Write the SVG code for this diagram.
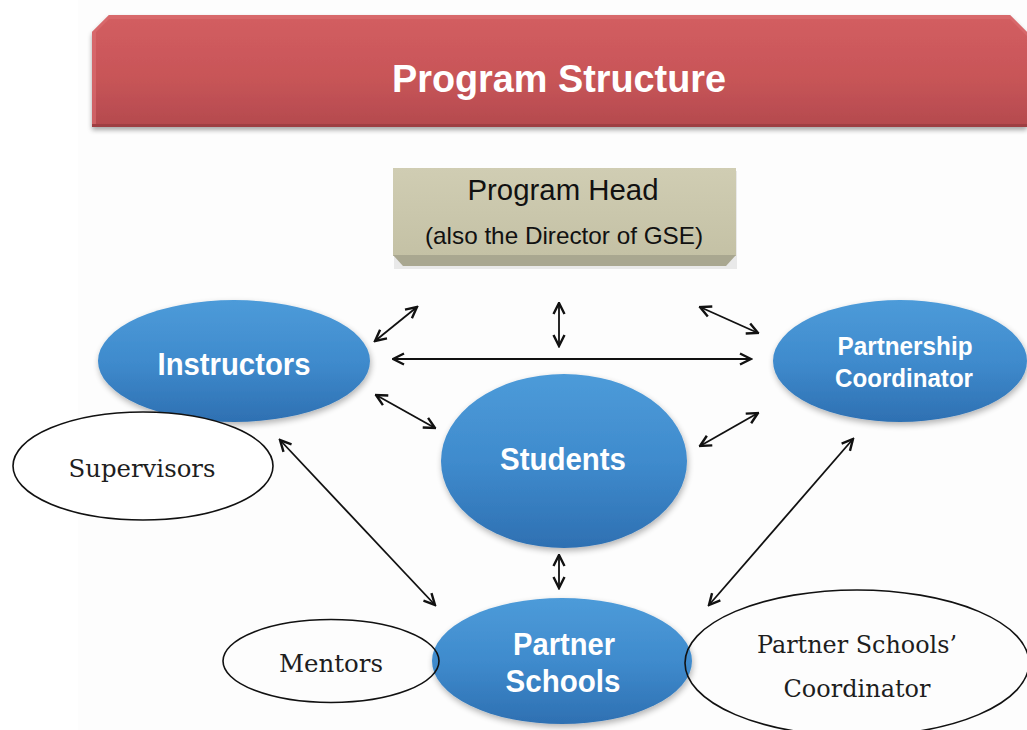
<svg xmlns="http://www.w3.org/2000/svg" width="1027" height="730" viewBox="0 0 1027 730">
  <defs>
    <style>
      .blue-title { font-family: "Liberation Sans", Arial, sans-serif; font-weight: bold; fill: #ffffff; text-anchor: middle; }
      .head-text { font-family: "Liberation Sans", Arial, sans-serif; fill: #111111; text-anchor: middle; }
      .role-text { font-family: "DejaVu Serif", "Liberation Serif", serif; fill: #1e1e1e; text-anchor: middle; }
      .role { fill: #ffffff; stroke: #111111; stroke-width: 1.6; }
      .blue { fill: url(#blueGrad); filter: url(#softShadow); }
      .link { fill: none; stroke: #111111; stroke-width: 1.8; marker-start: url(#arrowHead); marker-end: url(#arrowHead); }
    </style>
    <linearGradient id="bannerGrad" x1="0" y1="0" x2="0" y2="1">
      <stop offset="0" stop-color="#d35e61"/>
      <stop offset="0.55" stop-color="#c85558"/>
      <stop offset="1" stop-color="#b44a4e"/>
    </linearGradient>
    <linearGradient id="boxGrad" x1="0" y1="0" x2="0" y2="1">
      <stop offset="0" stop-color="#d0cdb3"/>
      <stop offset="1" stop-color="#c4c1a5"/>
    </linearGradient>
    <linearGradient id="blueGrad" x1="0" y1="0" x2="0" y2="1">
      <stop offset="0" stop-color="#4d9bd9"/>
      <stop offset="0.5" stop-color="#3f8bcd"/>
      <stop offset="1" stop-color="#2e70b2"/>
    </linearGradient>
    <filter id="softShadow" x="-20%" y="-20%" width="140%" height="150%">
      <feGaussianBlur in="SourceAlpha" stdDeviation="3"/>
      <feOffset dx="1" dy="3" result="blur"/>
      <feComponentTransfer><feFuncA type="linear" slope="0.3"/></feComponentTransfer>
      <feMerge><feMergeNode/><feMergeNode in="SourceGraphic"/></feMerge>
    </filter>
    <filter id="bannerShadow" x="-5%" y="-20%" width="110%" height="150%">
      <feGaussianBlur in="SourceAlpha" stdDeviation="2.5"/>
      <feOffset dx="0" dy="3" result="blur"/>
      <feComponentTransfer><feFuncA type="linear" slope="0.35"/></feComponentTransfer>
      <feMerge><feMergeNode/><feMergeNode in="SourceGraphic"/></feMerge>
    </filter>
    <marker id="arrowHead" viewBox="0 0 14 14" refX="12.5" refY="7" markerWidth="14" markerHeight="14" markerUnits="userSpaceOnUse" orient="auto-start-reverse">
      <path d="M1.5,1.5 L12.5,7 L1.5,12.5" fill="none" stroke="#111111" stroke-width="2.4" stroke-linejoin="miter"/>
    </marker>
  </defs>

  <!-- page -->
  <rect x="0" y="0" width="1027" height="730" fill="#ffffff"/>
  <rect x="78" y="0" width="949" height="730" fill="#fdfdfd"/>

  <!-- title banner -->
  <g id="title">
    <polygon points="92,32 109,15 1010,15 1027,32 1027,127 92,127" fill="url(#bannerGrad)" filter="url(#bannerShadow)"/>
    <polygon points="92,32 109,15 1010,15 1027,32 1027,36 1010,19 109,19 96,32 96,127 92,127" fill="#dc7073" opacity="0.6"/>
    <rect x="92" y="124" width="935" height="3" fill="#9e3f43"/>
    <text class="blue-title" x="559" y="92" font-size="39" textLength="334" lengthAdjust="spacingAndGlyphs">Program Structure</text>
  </g>

  <!-- program head -->
  <g id="program-head">
    <rect x="393" y="168" width="343" height="98" fill="#000000" opacity="0.08" transform="translate(1,3)"/>
    <rect x="393" y="168" width="343" height="88" fill="url(#boxGrad)"/>
    <polygon points="393,255 736,255 726,266 403,266" fill="#a9a790"/>
    <text class="head-text" x="563" y="200" font-size="29" textLength="191" lengthAdjust="spacingAndGlyphs">Program Head</text>
    <text class="head-text" x="564" y="244" font-size="24" textLength="278" lengthAdjust="spacingAndGlyphs">(also the Director of GSE)</text>
  </g>

  <!-- connectors -->
  <g id="connectors">
    <line class="link" x1="375" y1="341" x2="417" y2="307"/>
    <line class="link" x1="559" y1="303" x2="559" y2="346"/>
    <line class="link" x1="700" y1="307" x2="758" y2="333"/>
    <line class="link" x1="393" y1="359" x2="751" y2="359"/>
    <line class="link" x1="376" y1="395" x2="435" y2="428"/>
    <line class="link" x1="700" y1="446" x2="758" y2="413"/>
    <line class="link" x1="280" y1="440" x2="435" y2="605"/>
    <line class="link" x1="559" y1="555" x2="559" y2="588"/>
    <line class="link" x1="853" y1="439" x2="709" y2="605"/>
  </g>

  <!-- instructors -->
  <g id="instructors">
    <ellipse class="blue" cx="234" cy="361" rx="136" ry="61"/>
    <text class="blue-title" x="234" y="375" font-size="32" textLength="153" lengthAdjust="spacingAndGlyphs">Instructors</text>
  </g>

  <!-- partnership coordinator -->
  <g id="partnership-coordinator">
    <ellipse class="blue" cx="900" cy="361" rx="127" ry="61"/>
    <text class="blue-title" x="905" y="355" font-size="25" textLength="135" lengthAdjust="spacingAndGlyphs">Partnership</text>
    <text class="blue-title" x="904" y="387" font-size="25" textLength="138" lengthAdjust="spacingAndGlyphs">Coordinator</text>
  </g>

  <!-- students -->
  <g id="students">
    <ellipse class="blue" cx="564" cy="461" rx="123" ry="87"/>
    <text class="blue-title" x="563" y="470" font-size="32" textLength="126" lengthAdjust="spacingAndGlyphs">Students</text>
  </g>

  <!-- supervisors -->
  <g id="supervisors">
    <ellipse class="role" cx="143" cy="466" rx="130" ry="54"/>
    <text class="role-text" x="142" y="477" font-size="24" textLength="147" lengthAdjust="spacingAndGlyphs">Supervisors</text>
  </g>

  <!-- partner schools -->
  <g id="partner-schools">
    <ellipse class="blue" cx="562" cy="661" rx="130" ry="63"/>
    <text class="blue-title" x="564" y="655" font-size="32" textLength="102" lengthAdjust="spacingAndGlyphs">Partner</text>
    <text class="blue-title" x="563" y="692" font-size="32" textLength="115" lengthAdjust="spacingAndGlyphs">Schools</text>
  </g>

  <!-- mentors -->
  <g id="mentors">
    <ellipse class="role" cx="331" cy="661" rx="108" ry="41.5" fill-opacity="0"/>
    <text class="role-text" x="331" y="672" font-size="24" textLength="104" lengthAdjust="spacingAndGlyphs">Mentors</text>
  </g>

  <!-- partner schools' coordinator -->
  <g id="partner-schools-coordinator">
    <ellipse class="role" cx="857" cy="663" rx="172" ry="73" fill-opacity="0"/>
    <text class="role-text" x="857" y="653" font-size="25" textLength="200" lengthAdjust="spacingAndGlyphs">Partner Schools’</text>
    <text class="role-text" x="857" y="697" font-size="25" textLength="147" lengthAdjust="spacingAndGlyphs">Coordinator</text>
  </g>
</svg>
